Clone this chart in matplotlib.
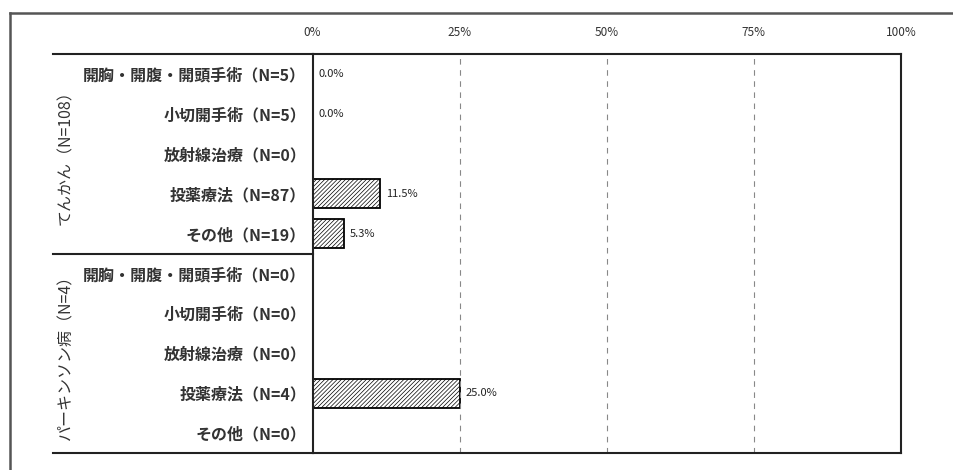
import matplotlib.pyplot as plt
from matplotlib.lines import Line2D

plt.rcParams['font.family'] = ['Noto Sans CJK JP', 'DejaVu Sans']
plt.rcParams['hatch.linewidth'] = 0.5

# data
groups = ['てんかん（N=108）', 'パーキンソン病（N=4）']
categories = [
    '開胸・開腹・開頭手術（N=5）', '小切開手術（N=5）', '放射線治療（N=0）',
    '投薬療法（N=87）', 'その他（N=19）',
    '開胸・開腹・開頭手術（N=0）', '小切開手術（N=0）', '放射線治療（N=0）',
    '投薬療法（N=4）', 'その他（N=0）',
]
# None = no respondents, so no bar and no label
values = [0.0, 0.0, None, 11.5, 5.3, None, None, None, 25.0, None]
x_ticks = [0, 25, 50, 75, 100]
x_labels = ['0%', '25%', '50%', '75%', '100%']

fig = plt.figure(figsize=(9.54, 4.70), dpi=100)
ax = fig.add_axes([312.5 / 954, 1 - 453 / 470, 588.5 / 954, 399 / 470])

pos = list(range(len(categories)))
bar_vals = [v if v is not None else 0 for v in values]
bars = ax.barh(pos, bar_vals, height=0.72, color='white', edgecolor='black',
               linewidth=1.3, hatch='////////')
for b, v in zip(bars, values):
    if v is None:
        b.set_visible(False)
        continue
    ax.annotate(f'{v:.1f}%', xy=(v, b.get_y() + b.get_height() / 2),
                xytext=(4, 0), textcoords='offset points',
                va='center', ha='left', fontsize=8, color='#222222')

ax.set_xlim(0, 100)
ax.set_ylim(len(categories) - 0.5, -0.5)
ax.set_yticks(pos, labels=categories, fontsize=11.5, fontweight='bold',
              color='#333333')
ax.tick_params(axis='y', length=0, pad=4.5)
ax.xaxis.tick_top()
ax.set_xticks(x_ticks, labels=x_labels, fontsize=8.5, color='#333333')
ax.tick_params(axis='x', length=0, pad=11)

for t in x_ticks[1:-1]:
    ax.axvline(t, color='#888888', linewidth=0.8, linestyle=(0, (5, 5)))

for side in ['left', 'right', 'top', 'bottom']:
    ax.spines[side].set_linewidth(1.5)
    ax.spines[side].set_color('#222222')

# horizontal rules extending into the label area
yt = ax.get_yaxis_transform()
x_left = (53 - 312.5) / 588.5
ax.plot([x_left, 0], [-0.5, -0.5], transform=yt, color='#222222',
        linewidth=1.5, clip_on=False)
ax.plot([x_left, 0], [4.5, 4.5], transform=yt, color='#222222',
        linewidth=1.5, clip_on=False)
ax.plot([x_left, 0], [9.5, 9.5], transform=yt, color='#222222',
        linewidth=1.5, clip_on=False)

# group labels
x_grp = (66 - 312.5) / 588.5
ax.text(x_grp, 2, groups[0], transform=yt, rotation=90, ha='center',
        va='center', fontsize=11.5, color='#333333')
ax.text(x_grp, 7, groups[1], transform=yt, rotation=90, ha='center',
        va='center', fontsize=11.5, color='#333333')

# outer frame (top and left edges visible)
fig.add_artist(Line2D([10 / 954, 1], [1 - 12.5 / 470, 1 - 12.5 / 470],
                      color='#555555', linewidth=1.8))
fig.add_artist(Line2D([10 / 954, 10 / 954], [0, 1 - 12.5 / 470],
                      color='#555555', linewidth=1.8))

fig.savefig('out.png', dpi=100)
